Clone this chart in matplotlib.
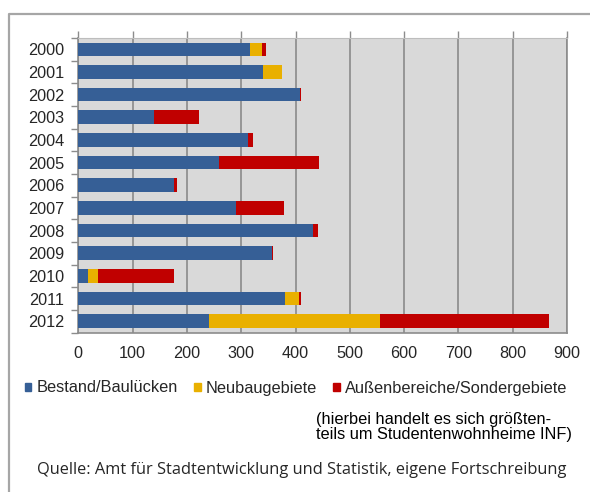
import matplotlib
matplotlib.use("Agg")
import matplotlib.pyplot as plt
from matplotlib.lines import Line2D
from matplotlib.patches import Rectangle
import numpy as np

years = ["2000", "2001", "2002", "2003", "2004", "2005", "2006",
         "2007", "2008", "2009", "2010", "2011", "2012"]
bestand = [316, 341, 408, 140, 312, 259, 177, 291, 433, 356, 18, 381, 240]
neubau = [22, 35, 0, 0, 0, 0, 0, 0, 0, 0, 19, 26, 315]
aussen = [7, 0, 3, 82, 9, 185, 5, 88, 9, 3, 139, 4, 312]
series_names = ["Bestand/Baulücken", "Neubaugebiete", "Außenbereiche/Sondergebiete"]
xticks = [0, 100, 200, 300, 400, 500, 600, 700, 800, 900]

colors = ["#365f96", "#e9b000", "#c00000"]
W, H = 590, 492
plt.rcParams['font.family'] = ['Liberation Sans', 'DejaVu Sans']

fig = plt.figure(figsize=(W / 100, H / 100), dpi=100)
fig.patch.set_facecolor("white")

# outer frame (top and left)
fig.add_artist(Line2D([9 / W, 9 / W, 1.0], [0.0, 1 - 14 / H, 1 - 14 / H],
                      transform=fig.transFigure, color="#a6a6a6", lw=1.6))

x0, x1, y0, y1 = 78.3, 567.0, 38.0, 332.5
ax = fig.add_axes([x0 / W, 1 - y1 / H, (x1 - x0) / W, (y1 - y0) / H])
ax.set_facecolor("#d9d9d9")

pos = np.arange(len(years))
b = np.array(bestand)
n = np.array(neubau)
a = np.array(aussen)
h = 0.6
ax.barh(pos, b, height=h, color=colors[0], edgecolor="none", zorder=3)
ax.barh(pos, n, left=b, height=h, color=colors[1], edgecolor="none", zorder=3)
ax.barh(pos, a, left=b + n, height=h, color=colors[2], edgecolor="none", zorder=3)

ax.set_xlim(0, 900)
ax.set_ylim(len(years) - 0.5, -0.5)
ax.xaxis.remove_overlapping_locs = False
ax.set_xticks(xticks)
ax.set_xticks(xticks, minor=True)
ax.set_xticklabels([str(v) for v in xticks], fontsize=11.7, color="#262626")
ax.set_yticks(pos)
ax.set_yticklabels(years, fontsize=11.7, color="#262626")
ax.set_yticks(np.arange(-0.5, len(years), 1.0), minor=True)
ax.tick_params(axis="y", which="major", length=0, pad=10)
ax.tick_params(axis="y", which="minor", length=5, width=1, color="#8c8c8c", direction="out")
ax.tick_params(axis="x", which="major", bottom=True, top=False, length=0, pad=10)
ax.tick_params(axis="x", which="minor", bottom=False, top=True, length=5, width=1,
               color="#8c8c8c", direction="out", labelbottom=False, labeltop=False)
ax.grid(axis="x", which="major", color="#8a8a8a", lw=1.2, zorder=1)
for s in ["left", "right", "bottom"]:
    ax.spines[s].set_color("#8c8c8c")
    ax.spines[s].set_linewidth(1.2)
ax.spines["top"].set_color("#bdbdbd")
ax.spines["top"].set_linewidth(0.8)

handles = [Rectangle((0, 0), 1, 1, color=c) for c in colors]
fig.legend(handles, series_names, loc="center", bbox_to_anchor=(296 / W, 1 - 388 / H),
           ncol=3, frameon=False, fontsize=11.8, handlelength=0.4, handleheight=0.4,
           handletextpad=0.3, columnspacing=1.0, labelcolor="#262626",
           borderpad=0, borderaxespad=0)

fig.text(316 / W, 1 - 427 / H,
         "(hierbei handelt es sich größten-\nteils um Studentenwohnheime INF)",
         fontsize=11.8, color="black", ha="left", va="center", linespacing=0.95)

fig.text(302 / W, 1 - 470 / H,
         "Quelle: Amt für Stadtentwicklung und Statistik, eigene Fortschreibung",
         fontsize=11.8, color="#262626", ha="center", va="center",
         family=["Open Sans", "DejaVu Sans"])

fig.savefig("out.png", dpi=100)
